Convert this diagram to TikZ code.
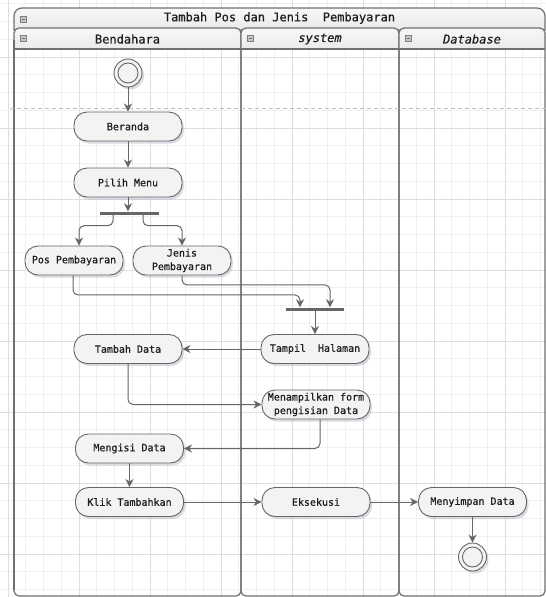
\documentclass[tikz,border=0pt]{standalone}
\usepackage{fontspec}
\setmonofont{DejaVu Sans Mono}
\newfontfamily\diagfont{DejaVu Sans Mono}[FakeBold=0.6]
\newfontfamily\diagitfont{DejaVu Sans Mono Oblique}[FakeBold=0.6]
\usetikzlibrary{arrows.meta,shadows,calc}

\definecolor{linec}{HTML}{666666}
\definecolor{framec}{HTML}{707070}
\definecolor{nodefill}{HTML}{F3F3F3}
\definecolor{gridminor}{HTML}{F0F0F0}
\definecolor{gridmajor}{HTML}{DEDEDE}
\definecolor{headtop}{HTML}{F8F8F8}
\definecolor{headbot}{HTML}{EAEAEA}
\definecolor{shadowc}{HTML}{8A8AA6}
\definecolor{textc}{HTML}{1E1E1E}
\definecolor{dashc}{HTML}{BDBDBD}

\tikzset{
  act/.style={draw=linec, line width=0.9pt, fill=nodefill, rounded corners=13pt,
    minimum width=108pt, minimum height=29pt, inner xsep=2pt, inner ysep=1pt,
    text=textc, font=\diagfont\fontsize{10}{13.5}\selectfont,
    drop shadow={shadow xshift=2pt, shadow yshift=-2.5pt, fill=shadowc, opacity=0.3}},
  bar/.style={fill=linec, minimum height=3pt, inner sep=0pt},
  term/.style={circle, draw=linec, line width=0.9pt, fill=nodefill, minimum size=28pt, inner sep=0pt,
    drop shadow={shadow xshift=2pt, shadow yshift=-2.5pt, fill=shadowc, opacity=0.3},
    path picture={\draw[linec, line width=0.9pt] (path picture bounding box.center) circle (10pt);}},
  flow/.style={draw=linec, line width=1pt, rounded corners=5pt,
    -{Stealth[length=8pt, width=8pt, inset=2.5pt]}},
  headtext/.style={text=textc, font=\diagfont\fontsize{12}{14}\selectfont},
  headit/.style={text=textc, font=\diagitfont\fontsize{12}{14}\selectfont},
  lanec/.style={draw=framec, line width=1.2pt},
  collapse/.pic={
    \draw[framec!90, line width=0.6pt, fill=headbot!85!black] (-3,-3) rectangle (3,3);
    \draw[framec, line width=0.8pt] (-1.8,0) -- (1.8,0);
  }
}

\begin{document}
\begin{tikzpicture}[x=1pt, y=-1pt]
\useasboundingbox (0,0) rectangle (546,597);
\fill[white] (0,0) rectangle (546,597);

% background grid: minor lines, then every fourth line darker
\foreach \i in {0,...,30} {
  \draw[gridminor, line width=0.6pt] ({8+17.75*\i},0) -- ({8+17.75*\i},597);
}
\foreach \i in {1,...,34} {
  \draw[gridminor, line width=0.6pt] (0,{-14+17.75*\i}) -- (546,{-14+17.75*\i});
}
\foreach \i in {0,...,7} {
  \draw[gridmajor, line width=0.7pt] ({8+71*\i},0) -- ({8+71*\i},597);
}
\foreach \i in {1,...,8} {
  \draw[gridmajor, line width=0.7pt] (0,{-14+71*\i}) -- (546,{-14+71*\i});
}

% title bar of the whole activity
\draw[lanec, top color=headtop, bottom color=headbot]
  (14,30) [rounded corners=8pt] -- (14,8) -- (545,8) [sharp corners] -- (545,30) -- cycle;
\node[headtext] (title) at (279.5,18) {Tambah Pos dan Jenis\ \ Pembayaran};
\pic at (23.5,19.5) {collapse};

% swimlanes
\foreach \xa/\xb in {14/241, 241/399, 399/545} {
  \fill[top color=headtop, bottom color=headbot]
    (\xa,49) [rounded corners=5pt] -- (\xa,28) -- (\xb,28) [sharp corners] -- (\xb,49) -- cycle;
  \draw[lanec] (\xa,49) -- (\xb,49);
  \draw[lanec, rounded corners=5pt] (\xa,28) rectangle (\xb,596);
  \pic at ({\xa+9.5},38.5) {collapse};
}
\draw[framec, line width=1.8pt] (14,40) -- (14,590);

\node[headtext] (laneA) at (127.5,39) {Bendahara};
\node[headit] (laneB) at (320,39) {system};
\node[headit] (laneC) at (472,39) {Database};

% partition line
\draw[dashc, line width=0.8pt, dash pattern=on 4pt off 3pt] (10,108) -- (546,108);

% activities
\node[term] (start) at (128,73) {};
\node[act] (beranda) at (128,126.5) {Beranda};
\node[act] (pilih) at (128,182.5) {Pilih Menu};
\node[bar, minimum width=59pt] (fork) at (129.5,213) {};
\node[act, minimum width=98pt] (pos) at (74,260.5) {Pos Pembayaran};
\node[act, minimum width=98pt, align=center] (jenis) at (182,260.5) {Jenis\\Pembayaran};
\node[bar, minimum width=58pt] (join) at (315,309) {};
\node[act] (tampil) at (315,349) {Tampil\ \ Halaman};
\node[act] (tambah) at (128,349) {Tambah Data};
\node[act, align=center] (form) at (316,404.5) {Menampilkan form\\pengisian Data};
\node[act] (mengisi) at (129.5,448.5) {Mengisi Data};
\node[act] (klik) at (129.5,502) {Klik Tambahkan};
\node[act] (eksekusi) at (316,502) {Eksekusi};
\node[act] (simpan) at (472.5,502) {Menyimpan Data};
\node[term] (end) at (472.5,557) {};

% control flow
\draw[flow] (start) -- (beranda);
\draw[flow] (beranda) -- (pilih);
\draw[flow] (pilih.south) -- (pilih.south |- fork.north);
\draw[flow] ($(fork.south)+(-16.5,0)$) -- ++(0,11) -| ($(pos.north)+(5,0)$);
\draw[flow] ($(fork.south)+(13.5,0)$) -- ++(0,11) -| (jenis.north);
\draw[flow] ($(pos.south)+(-1,0)$) -- ++(0,19.5) -| ($(join.north)+(-15,0)$);
\draw[flow] (jenis.south) -- ++(0,9.5) -| ($(join.north)+(15,0)$);
\draw[flow] (join.south) -- (tampil.north);
\draw[flow] (tampil.west) -- (tambah.east);
\draw[flow] (tambah.south) |- (form.west);
\draw[flow] ($(form.south)+(4,0)$) |- (mengisi.east);
\draw[flow] (mengisi) -- (klik);
\draw[flow] (klik.east) -- (eksekusi.west);
\draw[flow] (eksekusi.east) -- (simpan.west);
\draw[flow] (simpan) -- (end);
\end{tikzpicture}
\end{document}
